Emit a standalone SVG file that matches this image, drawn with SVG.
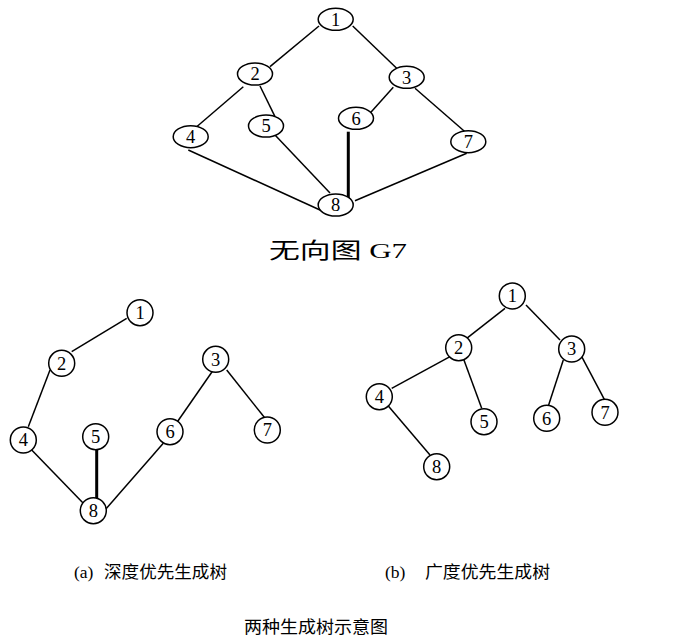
<svg xmlns="http://www.w3.org/2000/svg" width="683" height="639" viewBox="0 0 683 639">
<style>
.n{fill:#fff;stroke:#000;stroke-width:1.5}
.t{font-family:"Liberation Serif",serif;font-size:18.5px;text-anchor:middle;fill:#000}
.e{stroke:#000;stroke-width:1.5;fill:none}
.b{stroke:#000;stroke-width:3;fill:none}
.c{font-family:"Liberation Serif","Noto Sans CJK SC",serif;font-size:17.5px;fill:#000}
</style>
<rect width="683" height="639" fill="#fff"/>
<g id="edges">
<line class="e" x1="319" y1="26" x2="270" y2="66.7"/>
<line class="e" x1="352.7" y1="26" x2="397.7" y2="69.3"/>
<line class="e" x1="243.3" y1="86.7" x2="196.7" y2="126.7"/>
<line class="e" x1="260" y1="86" x2="275" y2="116.7"/>
<line class="e" x1="393.3" y1="87.3" x2="370" y2="113.3"/>
<line class="e" x1="415" y1="88.3" x2="465" y2="131.7"/>
<line class="e" x1="188.3" y1="150" x2="320" y2="210"/>
<line class="e" x1="275" y1="135" x2="330" y2="193"/>
<line class="b" x1="348.3" y1="131.7" x2="348.3" y2="199.3"/>
<line class="e" x1="466.7" y1="153.3" x2="355" y2="200.7"/>
<line class="e" x1="126.7" y1="318.3" x2="71.7" y2="351.7"/>
<line class="e" x1="50" y1="370" x2="28.3" y2="426.7"/>
<line class="e" x1="31.7" y1="450" x2="83.3" y2="503.3"/>
<line class="b" x1="96.7" y1="450" x2="96.7" y2="500"/>
<line class="e" x1="163.3" y1="443.3" x2="105" y2="510"/>
<line class="e" x1="213.3" y1="370" x2="176.7" y2="422.7"/>
<line class="e" x1="226.7" y1="370" x2="264.3" y2="417.3"/>
<line class="e" x1="505" y1="308.3" x2="466.7" y2="338.3"/>
<line class="e" x1="526" y1="305" x2="560" y2="340"/>
<line class="e" x1="450" y1="356.7" x2="391.7" y2="388.3"/>
<line class="e" x1="463.3" y1="358.3" x2="481.7" y2="408.3"/>
<line class="e" x1="388.3" y1="406" x2="430" y2="455"/>
<line class="e" x1="563.3" y1="360" x2="548.3" y2="406"/>
<line class="e" x1="581.7" y1="356.7" x2="605" y2="400.7"/>
</g>
<g id="g7-1"><ellipse class="n" cx="335.7" cy="19.3" rx="17.5" ry="11"/><text class="t" x="335.7" y="25.5">1</text></g>
<g id="g7-2"><ellipse class="n" cx="255" cy="74" rx="17.5" ry="11"/><text class="t" x="255" y="80">2</text></g>
<g id="g7-3"><ellipse class="n" cx="406.7" cy="77.3" rx="17.5" ry="11"/><text class="t" x="406.7" y="83.5">3</text></g>
<g id="g7-4"><ellipse class="n" cx="190.7" cy="136.7" rx="17.5" ry="11"/><text class="t" x="190.7" y="143">4</text></g>
<g id="g7-5"><ellipse class="n" cx="266" cy="126" rx="17.5" ry="11"/><text class="t" x="266" y="132">5</text></g>
<g id="g7-6"><ellipse class="n" cx="356" cy="118.3" rx="17.5" ry="11"/><text class="t" x="356" y="124.5">6</text></g>
<g id="g7-7"><ellipse class="n" cx="468.3" cy="141.7" rx="17.5" ry="11"/><text class="t" x="468.3" y="148">7</text></g>
<g id="g7-8"><ellipse class="n" cx="335.7" cy="205" rx="17.5" ry="11"/><text class="t" x="335.7" y="211">8</text></g>
<g id="title-g7"><text font-family="'Liberation Serif','Noto Sans CJK SC',serif" font-size="22" x="269" y="258" textLength="138" lengthAdjust="spacingAndGlyphs">无向图 G7</text></g>
<g id="a-1"><circle class="n" cx="140" cy="312.7" r="13"/><text class="t" x="140" y="319">1</text></g>
<g id="a-2"><circle class="n" cx="61.7" cy="363.3" r="13"/><text class="t" x="61.7" y="369.6">2</text></g>
<g id="a-3"><circle class="n" cx="215.7" cy="359.3" r="13"/><text class="t" x="215.7" y="365.6">3</text></g>
<g id="a-4"><circle class="n" cx="23.3" cy="440" r="13"/><text class="t" x="23.3" y="446.3">4</text></g>
<g id="a-5"><circle class="n" cx="95.7" cy="436.7" r="13"/><text class="t" x="95.7" y="443">5</text></g>
<g id="a-6"><circle class="n" cx="170" cy="431.7" r="13"/><text class="t" x="170" y="438">6</text></g>
<g id="a-7"><circle class="n" cx="267.3" cy="430" r="13"/><text class="t" x="267.3" y="436.3">7</text></g>
<g id="a-8"><circle class="n" cx="93.3" cy="510.7" r="13"/><text class="t" x="93.3" y="517">8</text></g>
<g id="b-1"><circle class="n" cx="512.3" cy="296" r="13"/><text class="t" x="512.3" y="302.3">1</text></g>
<g id="b-2"><circle class="n" cx="458.7" cy="347.7" r="13"/><text class="t" x="458.7" y="354">2</text></g>
<g id="b-3"><circle class="n" cx="571.7" cy="349" r="13"/><text class="t" x="571.7" y="355.3">3</text></g>
<g id="b-4"><circle class="n" cx="379.3" cy="396.7" r="13"/><text class="t" x="379.3" y="403">4</text></g>
<g id="b-5"><circle class="n" cx="484" cy="421.7" r="13"/><text class="t" x="484" y="428">5</text></g>
<g id="b-6"><circle class="n" cx="546.7" cy="418.3" r="13"/><text class="t" x="546.7" y="424.6">6</text></g>
<g id="b-7"><circle class="n" cx="605" cy="412.3" r="13"/><text class="t" x="605" y="418.6">7</text></g>
<g id="b-8"><circle class="n" cx="436.7" cy="466.7" r="13"/><text class="t" x="436.7" y="473">8</text></g>
<g id="captions">
<text class="c" x="74" y="578">(a)</text>
<text class="c" x="104" y="578" textLength="123" lengthAdjust="spacingAndGlyphs">深度优先生成树</text>
<text class="c" x="385" y="578">(b)</text>
<text class="c" x="425" y="578" textLength="125" lengthAdjust="spacingAndGlyphs">广度优先生成树</text>
<text class="c" x="244" y="633" textLength="144" lengthAdjust="spacingAndGlyphs">两种生成树示意图</text>
</g>
</svg>
